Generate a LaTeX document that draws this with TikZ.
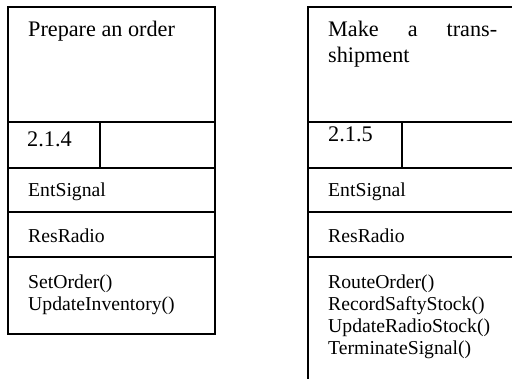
\documentclass[tikz,border=0pt]{standalone}
\usepackage{fontspec}
\setmainfont{Liberation Serif}
\begin{document}
\begin{tikzpicture}[x=1pt,y=-1pt,
  frame/.style={line width=1.6pt},
  cell/.style={line width=1.4pt},
  title/.style={anchor=base west,inner sep=0pt,font=\fontsize{22.2}{26}\selectfont},
  num/.style={anchor=base west,inner sep=0pt,font=\fontsize{22.3}{26}\selectfont},
  attr/.style={anchor=base west,inner sep=0pt,font=\fontsize{19.7}{22}\selectfont},
  ops/.style={anchor=base west,inner sep=0pt,align=left,font=\fontsize{19.7}{22.3}\selectfont}]
\useasboundingbox (0,0) rectangle (512,379);
\clip (0,0) rectangle (512,379);

% Class card: Prepare an order
\draw[frame] (8,7) rectangle (215,334);
\draw[cell] (8,122) -- (215,122);
\draw[cell] (8,168) -- (215,168);
\draw[cell] (100,122) -- (100,168);
\draw[cell] (8,212) -- (215,212);
\draw[cell] (8,257) -- (215,257);
\node[title] (t1) at (28,37) {Prepare an order};
\node[num] (n1) at (27,147) {2.1.4};
\node[attr] (e1) at (28,197) {EntSignal};
\node[attr] (r1) at (28,243) {ResRadio};
% operations: anchored on the baseline of the last line
\node[ops] (o1) at (28,311) {SetOrder()\\UpdateInventory()};

% Class card: Make a transshipment (runs past the page edge)
\draw[frame] (308,7) rectangle (530,400);
\draw[cell] (308,122) -- (530,122);
\draw[cell] (308,168) -- (530,168);
\draw[cell] (402,122) -- (402,168);
\draw[cell] (308,212) -- (530,212);
\draw[cell] (308,257) -- (530,257);
\node[title,text width=169pt,align=justify] (t2) at (328,37)
  {Make a trans-\linebreak shipment};
\node[num] (n2) at (328,142) {2.1.5};
\node[attr] (e2) at (328,197) {EntSignal};
\node[attr] (r2) at (328,243) {ResRadio};
\node[ops] (o2) at (328,355)
  {RouteOrder()\\RecordSaftyStock()\\UpdateRadioStock()\\TerminateSignal()};
\end{tikzpicture}
\end{document}
